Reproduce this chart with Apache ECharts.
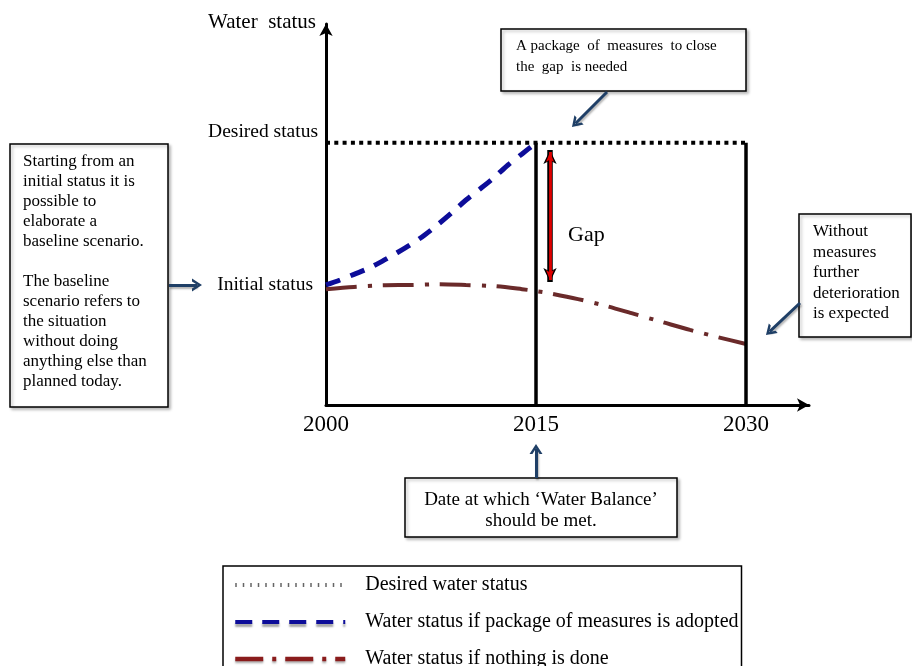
<!DOCTYPE html>
<html><head><meta charset="utf-8">
<script src="https://cdn.jsdelivr.net/npm/echarts@6/dist/echarts.min.js"></script>
<style>html,body{margin:0;padding:0;background:#fff}#c{width:912px;height:666px}</style>
</head><body><div id="c"></div>
<script>
// ---- data ----
const xTickYears = [2000, 2015, 2030];
const desiredStatus = 68.8;
const initialStatus = 31.5;
const measuresYears = [2000,2001,2002,2003,2004,2005,2006,2007,2008,2009,2010,2011,2012,2013,2014,2015];
const measuresValues = [31.5,32.8,34.3,35.8,37.7,39.8,42.0,44.5,47.4,50.5,53.8,56.7,59.7,63.0,65.9,68.8];
const nothingYears = [2000,2002,2004,2006,2008,2010,2012,2014,2015,2016,2018,2020,2022,2024,2026,2028,2030];
const nothingValues = [30.4,31.0,31.4,31.5,31.7,31.5,31.2,30.4,29.9,29.3,27.8,26.0,23.9,21.8,19.7,17.8,16.0];
const targetYear = 2015;
const horizonYear = 2030;
const gapYear = 2016;
const gapRange = [66.9, 32.3];
const legendNames = ['Desired water status', 'Water status if package of measures is adopted', 'Water status if nothing is done'];

const SERIF = '"Liberation Serif", "Times New Roman", serif';
const ARROW_COLOR = '#1f3f66';
const chevron = 'path://M0,10 L6,0 L12,10 L9.3,10 L6,4.4 L2.7,10 Z';

const chart = echarts.init(document.getElementById('c'), null, {renderer: 'canvas'});

function box(x, y, w, h, text, tx, ty, fs, lh, align) {
  return {
    type: 'group',
    children: [
      {type: 'rect', shape: {x: x, y: y, width: w, height: h},
       style: {fill: '#fff', stroke: '#000', lineWidth: 1.5, shadowBlur: 3, shadowOffsetX: 2, shadowOffsetY: 2, shadowColor: 'rgba(0,0,0,0.25)'}},
      {type: 'text', x: tx, y: ty,
       style: {text: text, fontFamily: SERIF, fontSize: fs, lineHeight: lh, fill: '#000', align: align || 'left', verticalAlign: 'top'}}
    ]
  };
}

const option = {
  animation: false,
  backgroundColor: '#fff',
  grid: {left: 326, right: 103, top: 24, bottom: 261, containLabel: false},
  xAxis: {
    type: 'value', min: 2000, max: 2034.5,
    axisLine: {show: true, onZero: false, symbol: ['none', 'arrow'], symbolSize: [10, 12], lineStyle: {color: '#000', width: 3}},
    axisTick: {show: false}, splitLine: {show: false},
    axisLabel: {customValues: xTickYears, margin: 8, fontSize: 23, fontFamily: SERIF, color: '#000',
      formatter: function (v) { return String(v); }}
  },
  yAxis: {
    type: 'value', min: 0, max: 100,
    name: 'Water  status', nameLocation: 'end', nameGap: 2,
    nameTextStyle: {align: 'right', verticalAlign: 'middle', padding: [0, 10, 0, 0], fontSize: 21, fontFamily: SERIF, color: '#000'},
    axisLine: {show: true, onZero: false, symbol: ['none', 'arrow'], symbolSize: [10, 12], lineStyle: {color: '#000', width: 3}},
    axisTick: {show: false}, splitLine: {show: false},
    axisLabel: {
      customValues: [initialStatus, desiredStatus], margin: 8, color: '#000',
      formatter: function (v) { return v === desiredStatus ? '{d|Desired status}' : '{i|Initial status}'; },
      rich: {
        d: {fontSize: 19.5, fontFamily: SERIF, color: '#000', padding: [0, 0, 22, 0]},
        i: {fontSize: 19.5, fontFamily: SERIF, color: '#000', padding: [0, 5, 0, 0]}
      }
    }
  },
  legend: {
    orient: 'vertical', left: 223, top: 566, height: 300, width: 600,
    padding: [9, 3, 20, 10],
    itemWidth: 110, itemHeight: 20, itemGap: 17,
    backgroundColor: '#fff', borderColor: '#000', borderWidth: 1.5,
    selectedMode: false,
    itemStyle: {opacity: 0},
    textStyle: {fontFamily: SERIF, fontSize: 20, color: '#000', lineHeight: 20, padding: [0, 0, 0, 15]},
    data: [
      {name: legendNames[0], itemStyle: {opacity: 0}, lineStyle: {color: '#666', width: 4, type: [1.5, 6], cap: 'butt'}},
      {name: legendNames[1], itemStyle: {opacity: 0}, lineStyle: {color: '#0d0d99', width: 4, type: [17, 10], shadowColor: 'rgba(0,0,0,0.35)', shadowBlur: 2, shadowOffsetY: 3}},
      {name: legendNames[2], itemStyle: {opacity: 0}, lineStyle: {color: '#8a1c1c', width: 4.5, type: [28, 9, 4, 9], shadowColor: 'rgba(0,0,0,0.3)', shadowBlur: 2, shadowOffsetY: 2}}
    ]
  },
  series: [
    {
      name: legendNames[0], type: 'line', symbol: 'none', silent: true, z: 3,
      data: [[2000, desiredStatus], [horizonYear, desiredStatus]],
      lineStyle: {color: '#000', width: 4, type: [4, 4.3], cap: 'butt'},
      markLine: {
        silent: true, symbol: 'none', label: {show: false},
        lineStyle: {color: '#000', width: 3.5, type: 'solid'},
        data: [
          [{coord: [targetYear, 0]}, {coord: [targetYear, desiredStatus]}],
          [{coord: [horizonYear, 0]}, {coord: [horizonYear, desiredStatus]}]
        ]
      }
    },
    {
      name: legendNames[1], type: 'line', symbol: 'none', smooth: 0.3, silent: true, z: 4,
      data: measuresYears.map((y, i) => [y, measuresValues[i]]),
      lineStyle: {color: '#0d0d99', width: 5, type: [15, 11], cap: 'butt'}
    },
    {
      name: legendNames[2], type: 'line', symbol: 'none', smooth: 0.3, silent: true, z: 4,
      data: nothingYears.map((y, i) => [y, nothingValues[i]]),
      lineStyle: {color: '#6a2a2a', width: 4, type: [31, 11, 4, 11], cap: 'butt'}
    },
    {
      name: 'gapOutline', type: 'line', data: [], silent: true, z: 5,
      markLine: {
        silent: true, symbol: ['arrow', 'arrow'], symbolSize: [10, 14], label: {show: false},
        lineStyle: {color: '#000', width: 5.5, type: 'solid'},
        data: [[{coord: [gapYear, gapRange[0]]}, {coord: [gapYear, gapRange[1]]}]]
      }
    },
    {
      name: 'gapFill', type: 'line', data: [], silent: true, z: 6,
      markLine: {
        silent: true, symbol: ['arrow', 'arrow'], symbolSize: [6, 10], label: {show: false},
        lineStyle: {color: '#e00000', width: 2.8, type: 'solid'},
        data: [[{coord: [gapYear, gapRange[0] - 0.5]}, {coord: [gapYear, gapRange[1] + 0.5]}]]
      }
    },
    {
      name: 'callouts', type: 'line', data: [], silent: true, z: 7,
      markLine: {
        silent: true, symbol: ['none', chevron], symbolSize: [13, 10], label: {show: false},
        lineStyle: {color: ARROW_COLOR, width: 3, type: 'solid', shadowColor: 'rgba(0,0,0,0.3)', shadowBlur: 2, shadowOffsetX: 1, shadowOffsetY: 2},
        itemStyle: {color: ARROW_COLOR},
        data: [
          [{x: 607, y: 92}, {x: 575.5, y: 123.5}],
          [{x: 169, y: 285}, {x: 197, y: 285}],
          [{x: 800, y: 303}, {x: 769.6, y: 331.6}],
          [{x: 536, y: 478}, {x: 536, y: 449}]
        ]
      }
    }
  ],
  graphic: [
    box(501, 29, 245, 62, 'A package  of  measures  to close\nthe  gap  is needed', 516, 35.5, 15, 21),
    box(10, 144, 158, 263, 'Starting from an\ninitial status it is\npossible to\nelaborate a\nbaseline scenario.\n\nThe baseline\nscenario refers to\nthe situation\nwithout doing\nanything else than\nplanned today.', 23, 152, 17, 20),
    box(799, 214, 112, 123, 'Without\nmeasures\nfurther\ndeterioration\nis expected', 813, 221.75, 17, 20.5),
    box(405, 478, 272, 59, 'Date at which \u2018Water Balance\u2019\nshould be met.', 541, 489.5, 19, 21, 'center'),
    {type: 'text', x: 568, y: 235, style: {text: 'Gap', fontFamily: SERIF, fontSize: 22, fill: '#000', align: 'left', verticalAlign: 'middle'}}
  ]
};
chart.setOption(option);
</script>
</body></html>
